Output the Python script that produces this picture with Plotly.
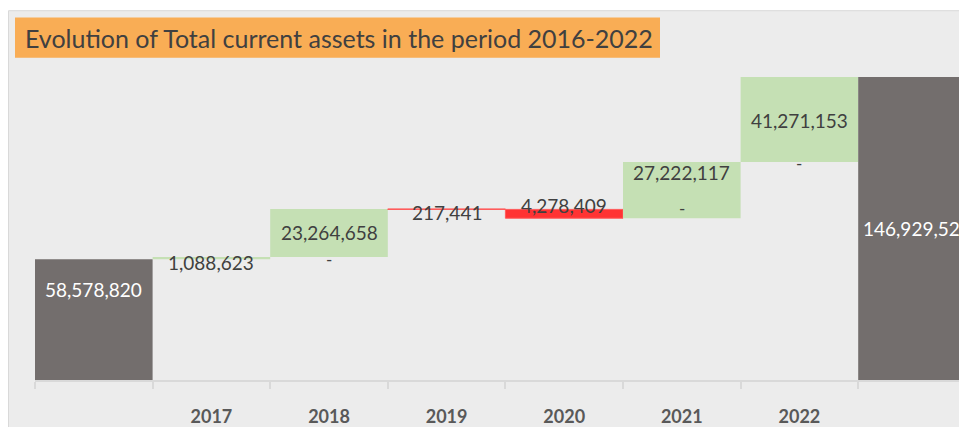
import plotly.graph_objects as go

# ---- data ----
categories = ["2016", "2017", "2018", "2019", "2020", "2021", "2022", "Total"]
tick_labels = ["", "2017", "2018", "2019", "2020", "2021", "2022", ""]
measures = ["absolute", "relative", "relative", "relative", "relative", "relative", "relative", "total"]
values = [58578820, 1088623, 23264658, -217441, -4278409, 27222117, 41271153, 0]
total_value = 146929521
title_text = "Evolution of Total current assets in the period 2016-2022"

# ---- style ----
OFF = 8                      # page body margin
W, H = 967 - OFF, 427 - OFF
ML, MR, MT, MB = 27, 0, 42, 41
PW, PH = W - ML - MR, H - MT - MB
CAT_W = 117.6
YMAX = 160e6
FONT = "Lato"
TXT = "#404040"
GREY_BAR = "#736E6D"
GREEN = "#C5E0B4"
RED = "#FF3333"
BG = "#ECECEC"

# label pixel offsets (from the segment midpoint) and "-" offsets (from segment bottom)
label_shift = [30, -4, 0, -3, 8, 18, -1, 0]
dash_shift = {2: -3, 5: 10, 6: -1}

x = list(range(len(categories)))

fig = go.Figure(go.Waterfall(
    x=x, y=values, measure=measures,
    width=[1] * len(x),
    increasing=dict(marker=dict(color=GREEN, line=dict(width=0))),
    decreasing=dict(marker=dict(color=RED, line=dict(color="#FF5A5A", width=1))),
    totals=dict(marker=dict(color=GREY_BAR, line=dict(width=0))),
    connector=dict(visible=False),
    hoverinfo="skip",
    showlegend=False,
))

ann = []
cum = 0
for i, (m, v) in enumerate(zip(measures, values)):
    if m == "absolute":
        lo, hi = 0, v
        cum = v
        shown = v
        white = True
    elif m == "total":
        lo, hi = 0, cum
        shown = total_value
        white = True
    else:
        start = cum
        cum += v
        lo, hi = min(start, cum), max(start, cum)
        shown = abs(v)
        white = False
    mid = (lo + hi) / 2
    ann.append(dict(x=i, y=mid, xref="x", yref="y", text=f"{shown:,}", showarrow=False,
                    yshift=label_shift[i],
                    font=dict(family=FONT, size=19, color="white" if white else TXT)))
    if i in dash_shift:
        ann.append(dict(x=i, y=lo, xref="x", yref="y", text="-", showarrow=False,
                        yshift=dash_shift[i], font=dict(family=FONT, size=17, color=TXT)))

# page pixel -> paper coordinates
def px_x(p):
    return (p - OFF - ML) / PW

def px_y(p):
    return (H - MB - (p - OFF)) / PH

ann.append(dict(xref="paper", yref="paper", x=px_x(23), y=px_y(37.5), xanchor="left", yanchor="middle",
                text=title_text, showarrow=False,
                font=dict(family=FONT, size=25, color=TXT)))

shapes = [
    dict(type="rect", xref="paper", yref="paper", layer="below",
         x0=px_x(8.5), x1=px_x(1000), y0=px_y(500), y1=px_y(10),
         fillcolor=BG, line=dict(color="#D9D9D9", width=1)),
    dict(type="rect", xref="paper", yref="paper", layer="above",
         x0=px_x(15), x1=px_x(660), y0=px_y(58), y1=px_y(17),
         fillcolor="#F9AD55", line=dict(width=0)),
]

fig.update_layout(
    width=W, height=H,
    margin=dict(l=ML, r=MR, t=MT, b=MB, pad=0),
    paper_bgcolor="white", plot_bgcolor=BG,
    font=dict(family=FONT, color=TXT),
    annotations=ann, shapes=shapes,
    xaxis=dict(
        range=[-0.5, -0.5 + PW / CAT_W],
        tickmode="array", tickvals=x, ticktext=tick_labels,
        ticks="", showgrid=False, zeroline=False,
        showline=True, linecolor="#D9D9D9", linewidth=2,
        tickfont=dict(family=FONT, size=18, color="#595959", weight="bold"),
        ticklabelstandoff=19,
        minor=dict(tickmode="linear", tick0=-0.5, dtick=1, ticks="outside",
                   ticklen=7, tickwidth=2, tickcolor="#D9D9D9", showgrid=False),
        fixedrange=True,
    ),
    yaxis=dict(range=[0, YMAX], visible=False, showgrid=False, zeroline=False, fixedrange=True),
)

fig.write_html("out.html", config={"displayModeBar": False})
